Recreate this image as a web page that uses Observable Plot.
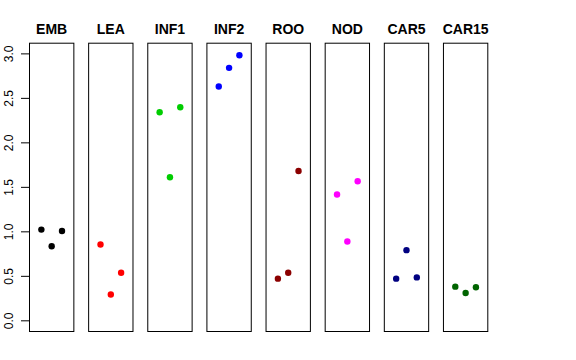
<!DOCTYPE html>
<html>
<head>
<meta charset="utf-8">
<script src="https://cdn.jsdelivr.net/npm/d3@7"></script>
<script src="https://cdn.jsdelivr.net/npm/@observablehq/plot@0.6"></script>
<style>
  html, body { margin: 0; padding: 0; background: white; }
  svg { display: block; }
</style>
</head>
<body>
<div id="chart"></div>
<script>
const panels = ["EMB", "LEA", "INF1", "INF2", "ROO", "NOD", "CAR5", "CAR15"];
const panelColors = ["#000000", "#FF0000", "#00CD00", "#0000FF", "#8B0000", "#FF00FF", "#000080", "#006400"];
const replicates = [1, 2, 3];
const rep1 = [1.025, 0.857, 2.344, 2.634, 0.474, 1.419, 0.474, 0.384];
const rep2 = [0.838, 0.295, 1.614, 2.843, 0.541, 0.891, 0.794, 0.313];
const rep3 = [1.010, 0.541, 2.400, 2.984, 1.684, 1.569, 0.488, 0.377];
const yTicks = [0, 0.5, 1.0, 1.5, 2.0, 2.5, 3.0];

const reps = [rep1, rep2, rep3];
const data = [];
panels.forEach((p, i) => {
  replicates.forEach((r, j) => {
    data.push({panel: p, rep: r, value: reps[j][i], color: panelColors[i]});
  });
});

const chart = Plot.plot({
  width: 576,
  height: 360,
  marginLeft: 29,
  marginRight: 88.7,
  marginTop: 42.7,
  marginBottom: 29,
  style: {fontFamily: "'Liberation Sans', Arial, Helvetica, sans-serif", background: "white", color: "black"},
  fx: {domain: panels, paddingInner: 0.25, paddingOuter: 0, round: false, label: null},
  x: {domain: [-0.15, 4.15], axis: null},
  y: {domain: [-0.12, 3.12], label: null},
  marks: [
    Plot.frame({stroke: "black", strokeWidth: 1}),
    Plot.axisFx({anchor: "top", tickSize: 0, tickPadding: 9, fontSize: 14, fontWeight: "bold", label: null}),
    Plot.axisY({ticks: yTicks, tickFormat: d3.format(".1f"), tickSize: 8, tickPadding: 9, tickRotate: -90, fontSize: 12, label: null}),
    Plot.dot(data, {fx: "panel", x: "rep", y: "value", r: 3.2, fill: "color", stroke: null})
  ]
});
document.getElementById("chart").appendChild(chart);
</script>
</body>
</html>
